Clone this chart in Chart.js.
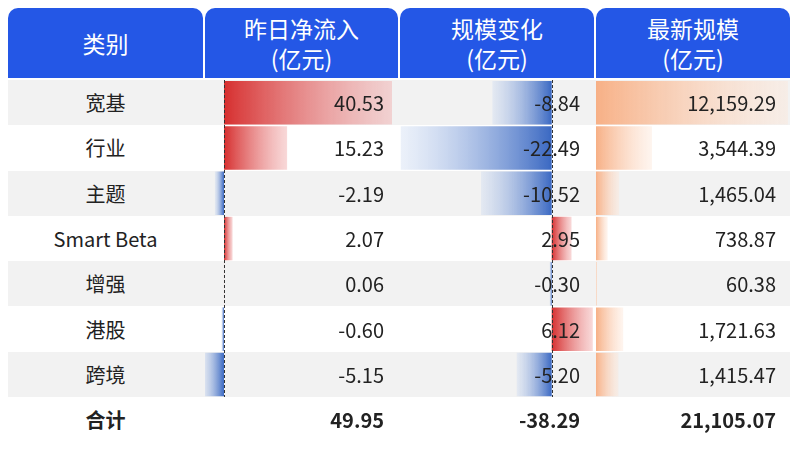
<!DOCTYPE html>
<html><head><meta charset="utf-8">
<script src="https://cdn.jsdelivr.net/npm/chart.js@4"></script>
<style>
body{margin:0;width:797px;height:451px;background:#fff;font-family:"Noto Sans CJK SC","Noto Sans",sans-serif;position:relative;overflow:hidden}
.abs{position:absolute}
.hdr{background:#2457e6;color:#fff;border-radius:10px 10px 0 0;text-align:center;font-size:23px;line-height:30px;top:8px;height:70px;display:flex;align-items:center;justify-content:center;flex-direction:column}
.hdr div{height:30px;white-space:nowrap}
.row{left:8px;width:782px}
.cell{font-size:20px;color:#222;display:flex;align-items:center;z-index:5}
canvas{position:absolute}
</style></head><body>
<div id="root"></div>
<script>
const headers=[["类别"],["昨日净流入","(亿元)"],["规模变化","(亿元)"],["最新规模","(亿元)"]];
const categories=["宽基","行业","主题","Smart Beta","增强","港股","跨境"];
const netInflow=[40.53,15.23,-2.19,2.07,0.06,-0.60,-5.15];
const scaleChange=[-8.84,-22.49,-10.52,2.95,-0.30,6.12,-5.20];
const latestSize=[12159.29,3544.39,1465.04,738.87,60.38,1721.63,1415.47];
const totals=["合计","49.95","-38.29","21,105.07"];

const cols=[[8,195],[205,193],[400,194],[596,194]];
const top0=80,rowH=45.3,nR=7;
const root=document.getElementById('root');
function el(cls,style,html){const d=document.createElement('div');d.className='abs '+cls;Object.assign(d.style,style);d.innerHTML=html||'';root.appendChild(d);return d;}
headers.forEach((h,i)=>el('hdr',{left:cols[i][0]+'px',width:cols[i][1]+'px'},h.map(t=>'<div>'+t+'</div>').join('')));
for(let r=0;r<nR;r++){
  el('row',{top:(top0+r*rowH)+'px',height:rowH+'px',background:r%2===0?'#f2f2f2':'#fff'});
}
const fmt=v=>v.toLocaleString('en-US',{minimumFractionDigits:2,maximumFractionDigits:2});
for(let r=0;r<nR;r++){
  const y=top0+r*rowH;
  el('cell',{left:cols[0][0]+'px',width:cols[0][1]+'px',top:y+'px',height:rowH+'px',justifyContent:'center'},categories[r]);
  [netInflow,scaleChange,latestSize].forEach((arr,k)=>{
    const c=cols[k+1];
    el('cell',{left:c[0]+'px',width:(c[1]-14)+'px',top:y+'px',height:rowH+'px',justifyContent:'flex-end'},fmt(arr[r]));
  });
}
totals.forEach((t,i)=>{
  const c=cols[i];
  el('cell',{left:c[0]+'px',width:(i?c[1]-14:c[1])+'px',top:(top0+nR*rowH)+'px',height:'44px',justifyContent:i?'flex-end':'center',fontWeight:'bold'},t);
});
const zeroLine={id:'zl',afterDatasetsDraw(ch,a,o){if(!o.show)return;const x=ch.scales.x.getPixelForValue(0);const c=ch.ctx;c.save();c.strokeStyle='#333';c.lineWidth=1;c.setLineDash([3,2]);c.beginPath();c.moveTo(Math.round(x)+0.5,0);c.lineTo(Math.round(x)+0.5,ch.height);c.stroke();c.restore();}};
function makeChart(k,data,min,max,colorFn,show){
  const c=cols[k];
  const cv=document.createElement('canvas');
  const w=document.createElement('div');w.className='abs';
  Object.assign(w.style,{left:c[0]+'px',top:top0+'px',width:c[1]+'px',height:(nR*rowH)+'px',zIndex:3});
  w.appendChild(cv);root.appendChild(w);
  new Chart(cv,{type:'bar',data:{labels:categories,datasets:[{data,borderWidth:0,
    backgroundColor:ctx=>{const ch=ctx.chart;const sx=ch.scales.x;const v=ctx.raw;const cc=colorFn(v);
      if(!sx||!ch.chartArea)return cc[0];
      const x0=sx.getPixelForValue(0),x1=sx.getPixelForValue(v);
      if(!isFinite(x0)||!isFinite(x1)||x0===x1)return cc[0];
      const g=ch.ctx.createLinearGradient(x0,0,x1,0);g.addColorStop(0,cc[0]);g.addColorStop(1,cc[1]);return g;},
    categoryPercentage:1,barPercentage:0.96}]},
    options:{indexAxis:'y',responsive:true,maintainAspectRatio:false,animation:false,events:[],
      layout:{padding:0},
      scales:{x:{display:false,min,max},y:{display:false}},
      plugins:{legend:{display:false},tooltip:{enabled:false},zl:{show}}}, plugins:[zeroLine]});
}
const rb=v=>v>=0?['#d62f2f','rgba(240,170,170,0.45)']:['#3a68c2','rgba(200,215,240,0.35)'];
makeChart(1,netInflow,-4.58,41.98,rb,true);
makeChart(2,scaleChange,-22.6,6.3,rb,true);
makeChart(3,latestSize,0,12290,()=>['#f7b086','rgba(253,230,215,0.4)'],false);
</script></body></html>
